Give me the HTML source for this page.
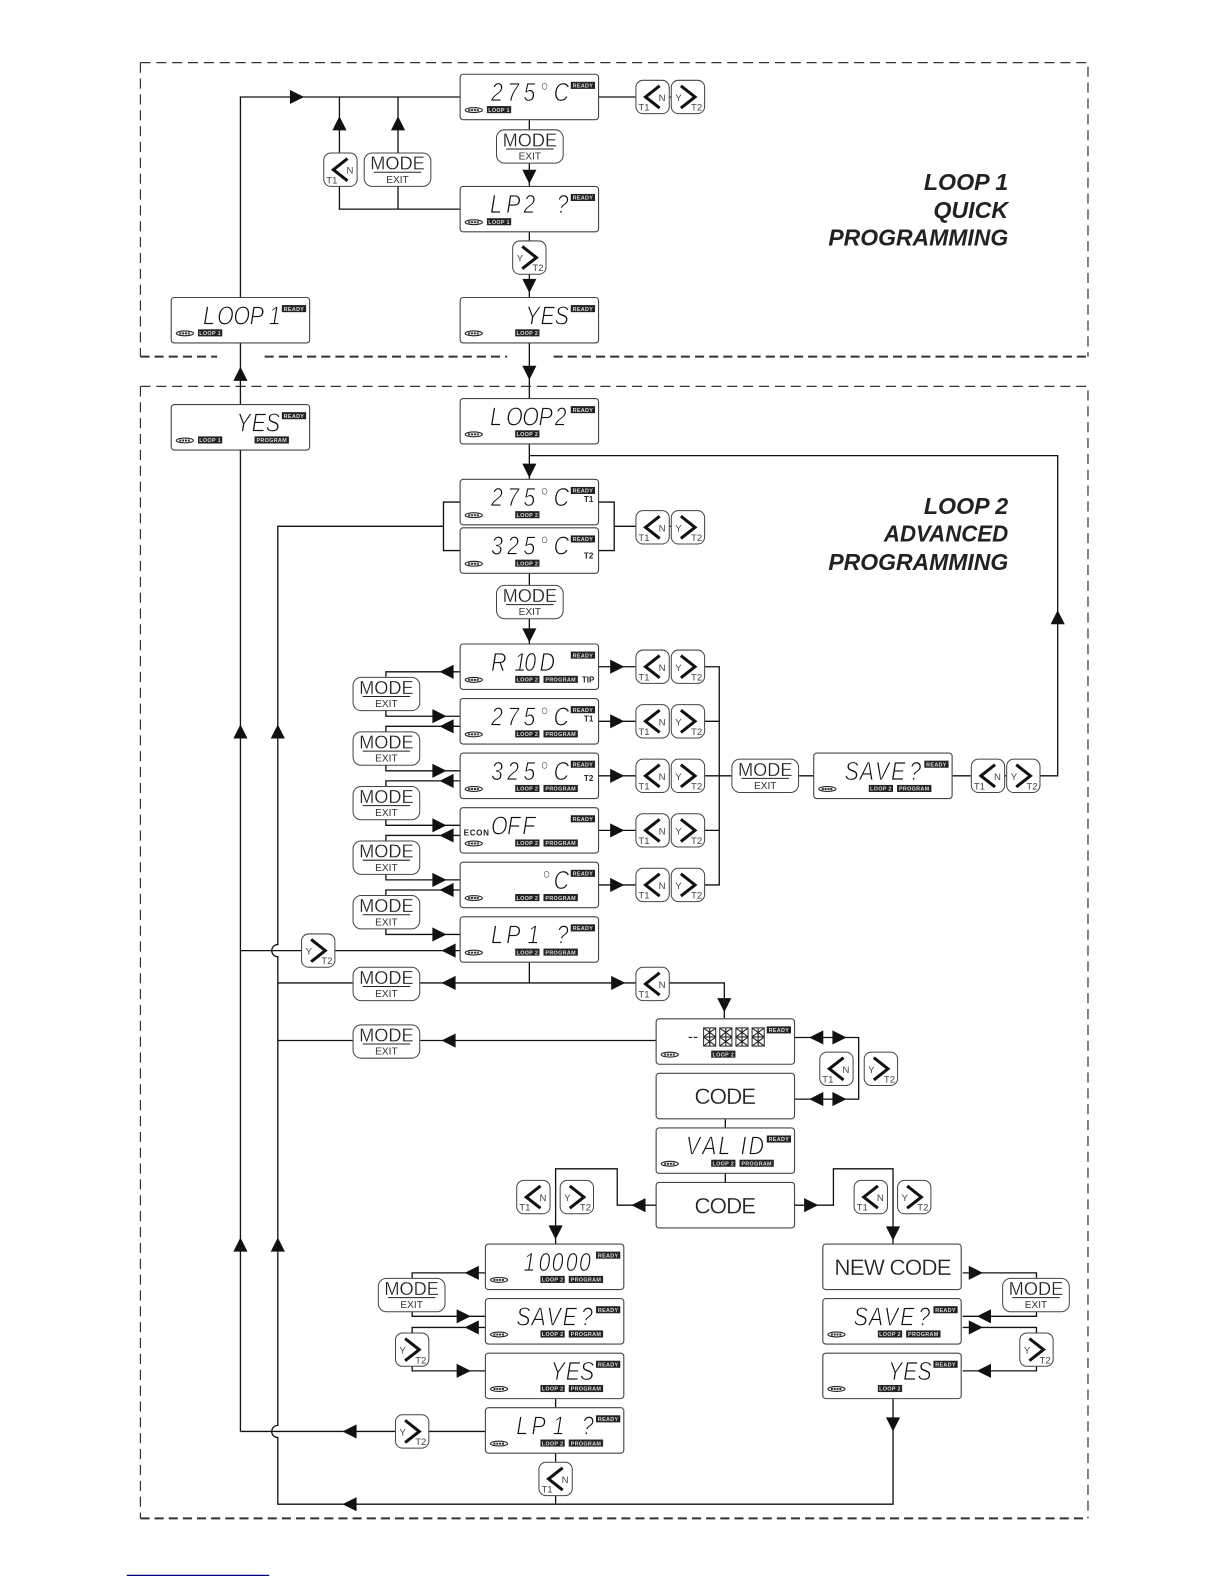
<!DOCTYPE html>
<html><head><meta charset="utf-8"><style>
html,body{margin:0;padding:0;background:#fff}
svg{display:block}
text{font-family:"Liberation Sans",sans-serif}
.s{font-size:26px;font-style:italic;fill:#111;stroke:#fff;stroke-width:.8px}
.c{font-size:22px;fill:#222;text-anchor:middle;stroke:#fff;stroke-width:.25px}
.t{font-size:5.4px;font-weight:bold;fill:#ddd;text-anchor:middle;letter-spacing:.3px}
.b{font-size:8px;font-weight:bold;fill:#222}
.k{font-size:9.5px;fill:#444}
.mo{font-size:18px;fill:#222;text-anchor:middle;stroke:#fff;stroke-width:.25px}
.ex{font-size:10px;fill:#333;text-anchor:middle}
.h{font-size:23px;font-weight:bold;font-style:italic;fill:#222;text-anchor:end}
</style></head><body>
<svg xmlns="http://www.w3.org/2000/svg" width="1224" height="1584" viewBox="0 0 1211.64 1568">
<defs>
<g id="d"><rect x=".5" y=".5" width="137" height="45" rx="3" fill="#fff" stroke="#444" stroke-width="1.1"/></g>
<g id="lg"><ellipse cx="14" cy="36" rx="8.5" ry="2.4" fill="#fff" stroke="#222" stroke-width="1.1"/><path d="M8.5 36H19.5" stroke="#333" stroke-width="2" stroke-dasharray="2 .8"/></g>
<rect id="r" x="110" y="8" width="24" height="7" fill="#222"/>
<rect id="l1" x="27" y="32" width="24" height="7" fill="#222"/>
<rect id="l2" x="55" y="32" width="24" height="7" fill="#222"/>
<rect id="p" x="83" y="32" width="34" height="7" fill="#222"/>
<g id="tl"><rect x=".5" y=".5" width="33" height="33" rx="7" fill="#fff" stroke="#444"/><path d="M24 6L10 17L24 28" fill="none" stroke="#111" stroke-width="3"/></g>
<g id="tr"><rect x=".5" y=".5" width="33" height="33" rx="7" fill="#fff" stroke="#444"/><path d="M10 6L24 17L10 28" fill="none" stroke="#111" stroke-width="3"/></g>
<g id="m"><rect x=".5" y=".5" width="66" height="33" rx="8" fill="#fff" stroke="#444"/><path d="M10 19.5H57" stroke="#222" stroke-width="1"/></g>
<polygon id="ar" points="0,0 -14,-7 -14,7" fill="#111"/>
<polygon id="al" points="0,0 14,-7 14,7" fill="#111"/>
<polygon id="au" points="0,0 -7,14 7,14" fill="#111"/>
<polygon id="ad" points="0,0 -7,-14 7,-14" fill="#111"/>
<g id="x"><rect x=".5" y=".5" width="12" height="18" fill="#fff" stroke="#222" stroke-width="1"/><path d="M1 1L12 9M12 1L1 9M1 10L12 18M12 10L1 18M6.5 1V18M1 9.5H12" stroke="#222" stroke-width="1.1"/></g>
</defs>

<!-- dashed frames -->
<g fill="none" stroke="#333">
<path d="M139 62H1077V353M139 62V353" stroke-width="1.2" stroke-dasharray="10 5.7"/>
<path d="M139 353H215M262 353H502M548 353H1077" stroke-width="2" stroke-dasharray="9 5"/>
<path d="M139 382.5H1077V1503M139 382.5V1503" stroke-width="1.2" stroke-dasharray="10 5.7"/>
<path d="M139 1503H1077" stroke-width="2" stroke-dasharray="9 5"/>
</g>
<path d="M125.5 1559.5H266.5" stroke="#000080" stroke-width="1.2"/>

<!-- connectors -->
<path fill="none" stroke="#111" stroke-width="1.3" d="M238 1417V96H455M592 96H629M662 96H664M336 96V151M394 96V151M336 184V207H455M394 184V207M524 119V128M524 161V184M524 230V238M524 271V294M524 340V394M524 440V474M524 451H1047V768H1029
M455 497H439V545H455M439 521H275V935A6 6 0 0 0 275 947V1411A6 6 0 0 0 275 1423V1489H884V1385
M592 497H608V545H592M608 521H629M662 521H664M524 568V579M524 612V637
M455 665H382V670M382 703V709H455M455 719H382V724M382 757V763H455M455 773H382V778M382 811V817H455M455 827H382V832M382 865V871H455M455 881H382V886M382 919V925H455
M592 660H629M697 660H712V876H697M592 714H629M697 714H712M592 768H629M697 768H724M592 822H629M697 822H712M592 876H629
M791 768H805M943 768H961M994 768H996
M455 941H331M298 941H238M524 953V973M275 973H349M416 973H629M662 973H717V1008M275 1030H349M416 1030H649
M787 1027H850V1088H787M718 1108V1116M718 1162V1170
M649 1193H611V1157H550V1231M787 1193H825V1157H884V1231
M480 1260H408V1265M408 1298V1303H480M480 1314H408V1319M408 1352V1357H480
M550 1385V1393M480 1417H424M391 1417H238M550 1439V1447M550 1480V1489
M953 1260H1026V1265M1026 1298V1303H953M953 1314H1026V1319M1026 1352V1357H953"/>

<!-- arrowheads -->
<use href="#ar" x="301" y="96"/>
<use href="#au" x="336" y="115"/><use href="#au" x="394" y="115"/>
<use href="#ad" x="524" y="182"/><use href="#ad" x="524" y="290"/><use href="#ad" x="524" y="376"/><use href="#ad" x="524" y="473"/><use href="#ad" x="524" y="636"/>
<use href="#au" x="238" y="363"/><use href="#au" x="1047" y="604"/>
<use href="#au" x="238" y="717"/><use href="#au" x="275" y="717"/><use href="#au" x="238" y="1225"/><use href="#au" x="275" y="1225"/>
<use href="#al" x="435" y="665"/><use href="#al" x="435" y="719"/><use href="#al" x="435" y="773"/><use href="#al" x="435" y="827"/><use href="#al" x="435" y="881"/><use href="#al" x="437" y="941"/>
<use href="#ar" x="442" y="709"/><use href="#ar" x="442" y="763"/><use href="#ar" x="442" y="817"/><use href="#ar" x="442" y="871"/><use href="#ar" x="442" y="925"/>
<use href="#ar" x="618" y="660"/><use href="#ar" x="618" y="714"/><use href="#ar" x="618" y="768"/><use href="#ar" x="618" y="822"/><use href="#ar" x="618" y="876"/>
<use href="#al" x="437" y="973"/><use href="#ar" x="619" y="973"/><use href="#al" x="437" y="1030"/><use href="#ad" x="717" y="1002"/>
<use href="#al" x="801" y="1027"/><use href="#ar" x="838" y="1027"/><use href="#al" x="801" y="1088"/><use href="#ar" x="838" y="1088"/>
<use href="#al" x="625" y="1193"/><use href="#ar" x="810" y="1193"/><use href="#ad" x="550" y="1227"/><use href="#ad" x="884" y="1228"/>
<use href="#al" x="460" y="1260"/><use href="#al" x="460" y="1314"/><use href="#ar" x="466" y="1303"/><use href="#ar" x="466" y="1357"/>
<use href="#al" x="339" y="1417"/><use href="#al" x="339" y="1489"/>
<use href="#ar" x="973" y="1260"/><use href="#al" x="967" y="1303"/><use href="#ar" x="973" y="1314"/><use href="#al" x="967" y="1357"/><use href="#ad" x="884" y="1417"/>

<!-- headings -->
<text class="h" x="998" y="188">LOOP 1</text><text class="h" x="998" y="216">QUICK</text><text class="h" x="998" y="243" textLength="178" lengthAdjust="spacingAndGlyphs">PROGRAMMING</text>
<text class="h" x="998" y="509">LOOP 2</text><text class="h" x="998" y="536" textLength="123" lengthAdjust="spacingAndGlyphs">ADVANCED</text><text class="h" x="998" y="564" textLength="178" lengthAdjust="spacingAndGlyphs">PROGRAMMING</text>

<!-- displays -->
<g transform="translate(455,73)"><use href="#d"/><use href="#lg"/><text class="s" transform="scale(.82,1)" x="37.8 57.3 76.9 96.4 113.5" y="27">275°C</text><use href="#r"/><text class="t" x="122" y="13.7">READY</text><use href="#l1"/><text class="t" x="39" y="37.7">LOOP 1</text></g>
<g transform="translate(455,184)"><use href="#d"/><use href="#lg"/><text class="s" transform="scale(.82,1)" x="36.6 56.1 76.9 97.6 117.1" y="27">LP2 ?</text><use href="#r"/><text class="t" x="122" y="13.7">READY</text><use href="#l1"/><text class="t" x="39" y="37.7">LOOP 1</text></g>
<g transform="translate(455,294)"><use href="#d"/><use href="#lg"/><text class="s" transform="scale(.82,1)" x="79.3 97.6 114.7" y="27">YES</text><use href="#r"/><text class="t" x="122" y="13.7">READY</text><use href="#l2"/><text class="t" x="67" y="37.7">LOOP 2</text></g>
<g transform="translate(169,294)"><use href="#d"/><use href="#lg"/><text class="s" transform="scale(.82,1)" x="39 56.1 75.6 95.2 110 118.3" y="27">LOOP 1</text><use href="#r"/><text class="t" x="122" y="13.7">READY</text><use href="#l1"/><text class="t" x="39" y="37.7">LOOP 1</text></g>
<g transform="translate(169,400)"><use href="#d"/><use href="#lg"/><text class="s" transform="scale(.82,1)" x="79.3 97.6 114.7" y="27">YES</text><use href="#r"/><text class="t" x="122" y="13.7">READY</text><use href="#l1"/><text class="t" x="39" y="37.7">LOOP 1</text><use href="#p"/><text class="t" x="100" y="37.7">PROGRAM</text></g>
<g transform="translate(455,394)"><use href="#d"/><use href="#lg"/><text class="s" transform="scale(.82,1)" x="36.6 56.1 75.6 95.2 114.7" y="27">LOOP2</text><use href="#r"/><text class="t" x="122" y="13.7">READY</text><use href="#l2"/><text class="t" x="67" y="37.7">LOOP 2</text></g>
<g transform="translate(455,474)"><use href="#d"/><use href="#lg"/><text class="s" transform="scale(.82,1)" x="37.8 57.3 76.9 96.4 113.5" y="27">275°C</text><use href="#r"/><text class="t" x="122" y="13.7">READY</text><text class="b" x="123" y="23">T1</text><use href="#l2"/><text class="t" x="67" y="37.7">LOOP 2</text></g>
<g transform="translate(455,522)"><use href="#d"/><use href="#lg"/><text class="s" transform="scale(.82,1)" x="37.8 57.3 76.9 96.4 113.5" y="27">325°C</text><use href="#r"/><text class="t" x="122" y="13.7">READY</text><text class="b" x="123" y="31">T2</text><use href="#l2"/><text class="t" x="67" y="37.7">LOOP 2</text></g>
<g transform="translate(455,637)"><use href="#d"/><use href="#lg"/><text class="s" transform="scale(.82,1)" x="37.8 55 65.9 78 96.4" y="27">R 10D</text><use href="#r"/><text class="t" x="122" y="13.7">READY</text><text class="b" x="121" y="38.5">TIP</text><use href="#l2"/><text class="t" x="67" y="37.7">LOOP 2</text><use href="#p"/><text class="t" x="100" y="37.7">PROGRAM</text></g>
<g transform="translate(455,691)"><use href="#d"/><use href="#lg"/><text class="s" transform="scale(.82,1)" x="37.8 57.3 76.9 96.4 113.5" y="27">275°C</text><use href="#r"/><text class="t" x="122" y="13.7">READY</text><text class="b" x="123" y="23">T1</text><use href="#l2"/><text class="t" x="67" y="37.7">LOOP 2</text><use href="#p"/><text class="t" x="100" y="37.7">PROGRAM</text></g>
<g transform="translate(455,745)"><use href="#d"/><use href="#lg"/><text class="s" transform="scale(.82,1)" x="37.8 57.3 76.9 96.4 113.5" y="27">325°C</text><use href="#r"/><text class="t" x="122" y="13.7">READY</text><text class="b" x="123" y="28">T2</text><use href="#l2"/><text class="t" x="67" y="37.7">LOOP 2</text><use href="#p"/><text class="t" x="100" y="37.7">PROGRAM</text></g>
<g transform="translate(455,799)"><use href="#d"/><use href="#lg"/><text class="s" transform="scale(.82,1)" x="37.8 57.3 75.6" y="27">OFF</text><text class="b" x="4" y="28" textLength="25">ECON</text><use href="#r"/><text class="t" x="122" y="13.7">READY</text><use href="#l2"/><text class="t" x="67" y="37.7">LOOP 2</text><use href="#p"/><text class="t" x="100" y="37.7">PROGRAM</text></g>
<g transform="translate(455,853)"><use href="#d"/><use href="#lg"/><text class="s" transform="scale(.82,1)" x="98.8 113.5" y="27">°C</text><use href="#r"/><text class="t" x="122" y="13.7">READY</text><use href="#l2"/><text class="t" x="67" y="37.7">LOOP 2</text><use href="#p"/><text class="t" x="100" y="37.7">PROGRAM</text></g>
<g transform="translate(455,907)"><use href="#d"/><use href="#lg"/><text class="s" transform="scale(.82,1)" x="37.8 56.1 81.7 100 117.1" y="27">LP1 ?</text><use href="#r"/><text class="t" x="122" y="13.7">READY</text><use href="#l2"/><text class="t" x="67" y="37.7">LOOP 2</text><use href="#p"/><text class="t" x="100" y="37.7">PROGRAM</text></g>
<g transform="translate(649,1008)"><use href="#d"/><use href="#lg"/><text x="32" y="23" style="font-size:15px;fill:#222">--</text><use href="#x" x="47" y="9"/><use href="#x" x="63" y="9"/><use href="#x" x="79" y="9"/><use href="#x" x="95" y="9"/><use href="#r"/><text class="t" x="122" y="13.7">READY</text><use href="#l2"/><text class="t" x="67" y="37.7">LOOP 2</text></g>
<g transform="translate(649,1062)"><use href="#d"/><text class="c" x="69" y="31" textLength="61">CODE</text></g>
<g transform="translate(649,1116)"><use href="#d"/><use href="#lg"/><text class="s" transform="scale(.82,1)" x="36.6 56.1 75.6 91.5 102.5 112.2" y="27">VAL ID</text><use href="#r"/><text class="t" x="122" y="13.7">READY</text><use href="#l2"/><text class="t" x="67" y="37.7">LOOP 2</text><use href="#p"/><text class="t" x="100" y="37.7">PROGRAM</text></g>
<g transform="translate(649,1170)"><use href="#d"/><text class="c" x="69" y="31" textLength="61">CODE</text></g>
<g transform="translate(480,1231)"><use href="#d"/><use href="#lg"/><text class="s" transform="scale(.82,1)" x="46.4 64.7 80.5 97.6 113.5" y="27">10000</text><use href="#r"/><text class="t" x="122" y="13.7">READY</text><use href="#l2"/><text class="t" x="67" y="37.7">LOOP 2</text><use href="#p"/><text class="t" x="100" y="37.7">PROGRAM</text></g>
<g transform="translate(480,1285)"><use href="#d"/><use href="#lg"/><text class="s" transform="scale(.82,1)" x="37.8 56.1 74.4 93.9 115.9" y="27">SAVE?</text><use href="#r"/><text class="t" x="122" y="13.7">READY</text><use href="#l2"/><text class="t" x="67" y="37.7">LOOP 2</text><use href="#p"/><text class="t" x="100" y="37.7">PROGRAM</text></g>
<g transform="translate(480,1339)"><use href="#d"/><use href="#lg"/><text class="s" transform="scale(.82,1)" x="79.3 97.6 114.7" y="27">YES</text><use href="#r"/><text class="t" x="122" y="13.7">READY</text><use href="#l2"/><text class="t" x="67" y="37.7">LOOP 2</text><use href="#p"/><text class="t" x="100" y="37.7">PROGRAM</text></g>
<g transform="translate(480,1393)"><use href="#d"/><use href="#lg"/><text class="s" transform="scale(.82,1)" x="37.8 56.1 81.7 100 117.1" y="27">LP1 ?</text><use href="#r"/><text class="t" x="122" y="13.7">READY</text><use href="#l2"/><text class="t" x="67" y="37.7">LOOP 2</text><use href="#p"/><text class="t" x="100" y="37.7">PROGRAM</text></g>
<g transform="translate(814,1231)"><use href="#d"/><text class="c" x="70" y="31" textLength="116">NEW CODE</text></g>
<g transform="translate(814,1285)"><use href="#d"/><use href="#lg"/><text class="s" transform="scale(.82,1)" x="37.8 56.1 74.4 93.9 115.9" y="27">SAVE?</text><use href="#r"/><text class="t" x="122" y="13.7">READY</text><use href="#l2"/><text class="t" x="67" y="37.7">LOOP 2</text><use href="#p"/><text class="t" x="100" y="37.7">PROGRAM</text></g>
<g transform="translate(814,1339)"><use href="#d"/><use href="#lg"/><text class="s" transform="scale(.82,1)" x="79.3 97.6 114.7" y="27">YES</text><use href="#r"/><text class="t" x="122" y="13.7">READY</text><use href="#l2"/><text class="t" x="67" y="37.7">LOOP 2</text></g>
<g transform="translate(805,745)"><use href="#d"/><use href="#lg"/><text class="s" transform="scale(.82,1)" x="37.8 56.1 74.4 93.9 115.9" y="27">SAVE?</text><use href="#r"/><text class="t" x="122" y="13.7">READY</text><use href="#l2"/><text class="t" x="67" y="37.7">LOOP 2</text><use href="#p"/><text class="t" x="100" y="37.7">PROGRAM</text></g>

<!-- MODE buttons -->
<g transform="translate(491,128)"><use href="#m"/><text class="mo" x="33.5" y="17">MODE</text><text class="ex" x="33.5" y="30">EXIT</text></g>
<g transform="translate(360,151)"><use href="#m"/><text class="mo" x="33.5" y="17">MODE</text><text class="ex" x="33.5" y="30">EXIT</text></g>
<g transform="translate(491,579)"><use href="#m"/><text class="mo" x="33.5" y="17">MODE</text><text class="ex" x="33.5" y="30">EXIT</text></g>
<g transform="translate(349,670)"><use href="#m"/><text class="mo" x="33.5" y="17">MODE</text><text class="ex" x="33.5" y="30">EXIT</text></g>
<g transform="translate(349,724)"><use href="#m"/><text class="mo" x="33.5" y="17">MODE</text><text class="ex" x="33.5" y="30">EXIT</text></g>
<g transform="translate(349,778)"><use href="#m"/><text class="mo" x="33.5" y="17">MODE</text><text class="ex" x="33.5" y="30">EXIT</text></g>
<g transform="translate(349,832)"><use href="#m"/><text class="mo" x="33.5" y="17">MODE</text><text class="ex" x="33.5" y="30">EXIT</text></g>
<g transform="translate(349,886)"><use href="#m"/><text class="mo" x="33.5" y="17">MODE</text><text class="ex" x="33.5" y="30">EXIT</text></g>
<g transform="translate(349,957)"><use href="#m"/><text class="mo" x="33.5" y="17">MODE</text><text class="ex" x="33.5" y="30">EXIT</text></g>
<g transform="translate(349,1014)"><use href="#m"/><text class="mo" x="33.5" y="17">MODE</text><text class="ex" x="33.5" y="30">EXIT</text></g>
<g transform="translate(724,751)"><use href="#m"/><text class="mo" x="33.5" y="17">MODE</text><text class="ex" x="33.5" y="30">EXIT</text></g>
<g transform="translate(374,1265)"><use href="#m"/><text class="mo" x="33.5" y="17">MODE</text><text class="ex" x="33.5" y="30">EXIT</text></g>
<g transform="translate(992,1265)"><use href="#m"/><text class="mo" x="33.5" y="17">MODE</text><text class="ex" x="33.5" y="30">EXIT</text></g>

<!-- N / T1 buttons -->
<g transform="translate(629,79)"><use href="#tl"/><text class="k" x="23" y="21">N</text><text class="k" x="3" y="30.5">T1</text></g>
<g transform="translate(320,151)"><use href="#tl"/><text class="k" x="23" y="21">N</text><text class="k" x="3" y="30.5">T1</text></g>
<g transform="translate(629,505)"><use href="#tl"/><text class="k" x="23" y="21">N</text><text class="k" x="3" y="30.5">T1</text></g>
<g transform="translate(629,643)"><use href="#tl"/><text class="k" x="23" y="21">N</text><text class="k" x="3" y="30.5">T1</text></g>
<g transform="translate(629,697)"><use href="#tl"/><text class="k" x="23" y="21">N</text><text class="k" x="3" y="30.5">T1</text></g>
<g transform="translate(629,751)"><use href="#tl"/><text class="k" x="23" y="21">N</text><text class="k" x="3" y="30.5">T1</text></g>
<g transform="translate(629,805)"><use href="#tl"/><text class="k" x="23" y="21">N</text><text class="k" x="3" y="30.5">T1</text></g>
<g transform="translate(629,859)"><use href="#tl"/><text class="k" x="23" y="21">N</text><text class="k" x="3" y="30.5">T1</text></g>
<g transform="translate(961,751)"><use href="#tl"/><text class="k" x="23" y="21">N</text><text class="k" x="3" y="30.5">T1</text></g>
<g transform="translate(629,957)"><use href="#tl"/><text class="k" x="23" y="21">N</text><text class="k" x="3" y="30.5">T1</text></g>
<g transform="translate(811,1041)"><use href="#tl"/><text class="k" x="23" y="21">N</text><text class="k" x="3" y="30.5">T1</text></g>
<g transform="translate(511,1168)"><use href="#tl"/><text class="k" x="23" y="21">N</text><text class="k" x="3" y="30.5">T1</text></g>
<g transform="translate(845,1168)"><use href="#tl"/><text class="k" x="23" y="21">N</text><text class="k" x="3" y="30.5">T1</text></g>
<g transform="translate(533,1447)"><use href="#tl"/><text class="k" x="23" y="21">N</text><text class="k" x="3" y="30.5">T1</text></g>

<!-- Y / T2 buttons -->
<g transform="translate(664,79)"><use href="#tr"/><text class="k" x="4.5" y="21">Y</text><text class="k" x="20" y="30.5">T2</text></g>
<g transform="translate(507,238)"><use href="#tr"/><text class="k" x="4.5" y="21">Y</text><text class="k" x="20" y="30.5">T2</text></g>
<g transform="translate(664,505)"><use href="#tr"/><text class="k" x="4.5" y="21">Y</text><text class="k" x="20" y="30.5">T2</text></g>
<g transform="translate(664,643)"><use href="#tr"/><text class="k" x="4.5" y="21">Y</text><text class="k" x="20" y="30.5">T2</text></g>
<g transform="translate(664,697)"><use href="#tr"/><text class="k" x="4.5" y="21">Y</text><text class="k" x="20" y="30.5">T2</text></g>
<g transform="translate(664,751)"><use href="#tr"/><text class="k" x="4.5" y="21">Y</text><text class="k" x="20" y="30.5">T2</text></g>
<g transform="translate(664,805)"><use href="#tr"/><text class="k" x="4.5" y="21">Y</text><text class="k" x="20" y="30.5">T2</text></g>
<g transform="translate(664,859)"><use href="#tr"/><text class="k" x="4.5" y="21">Y</text><text class="k" x="20" y="30.5">T2</text></g>
<g transform="translate(996,751)"><use href="#tr"/><text class="k" x="4.5" y="21">Y</text><text class="k" x="20" y="30.5">T2</text></g>
<g transform="translate(298,924)"><use href="#tr"/><text class="k" x="4.5" y="21">Y</text><text class="k" x="20" y="30.5">T2</text></g>
<g transform="translate(855,1041)"><use href="#tr"/><text class="k" x="4.5" y="21">Y</text><text class="k" x="20" y="30.5">T2</text></g>
<g transform="translate(554,1168)"><use href="#tr"/><text class="k" x="4.5" y="21">Y</text><text class="k" x="20" y="30.5">T2</text></g>
<g transform="translate(888,1168)"><use href="#tr"/><text class="k" x="4.5" y="21">Y</text><text class="k" x="20" y="30.5">T2</text></g>
<g transform="translate(391,1319)"><use href="#tr"/><text class="k" x="4.5" y="21">Y</text><text class="k" x="20" y="30.5">T2</text></g>
<g transform="translate(391,1400)"><use href="#tr"/><text class="k" x="4.5" y="21">Y</text><text class="k" x="20" y="30.5">T2</text></g>
<g transform="translate(1009,1319)"><use href="#tr"/><text class="k" x="4.5" y="21">Y</text><text class="k" x="20" y="30.5">T2</text></g>
</svg>
</body></html>
